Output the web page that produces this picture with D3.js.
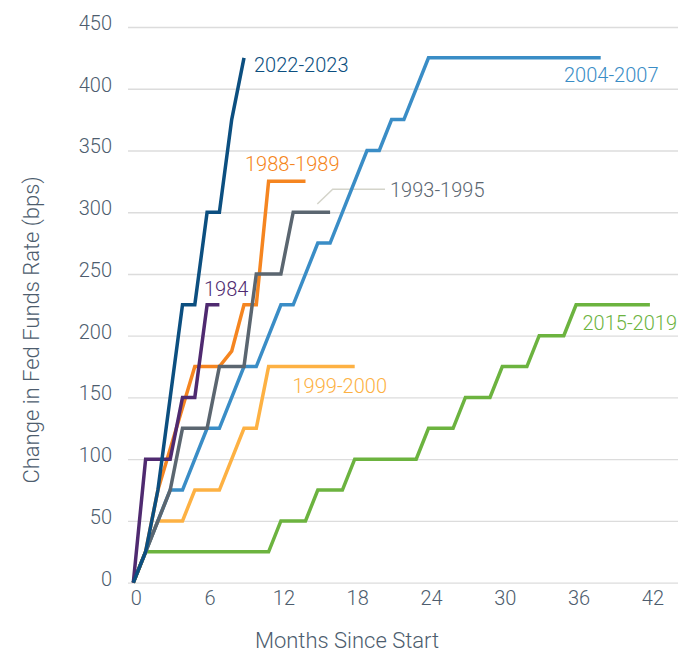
<!DOCTYPE html>
<html>
<head>
<meta charset="utf-8">
<script src="https://cdn.jsdelivr.net/npm/d3@7"></script>
<style>
  body { margin: 0; background: #fff; }
  text { font-family: Roboto, "Open Sans", sans-serif; font-weight: 300; }
  .tick line { stroke: #dcdcdc; stroke-width: 1.3; }
  .tick text { fill: #4d5d6e; font-size: 20px; }
</style>
</head>
<body>
<div id="vis"></div>
<script>
// ---- data ----
const seriesNames = ['2015-2019', '1999-2000', '2004-2007', '1988-1989', '1993-1995', '1984', '2022-2023'];

const months2015 = [0, 1, 11, 12, 14, 15, 17, 18, 23, 24, 26, 27, 29, 30, 32, 33, 35, 36, 42];
const bps2015    = [0, 25, 25, 50, 50, 75, 75, 100, 100, 125, 125, 150, 150, 175, 175, 200, 200, 225, 225];

const months1999 = [0, 1, 2, 4, 5, 7, 9, 10, 11, 18];
const bps1999    = [0, 25, 50, 50, 75, 75, 125, 125, 175, 175];

const months2004 = [0, 1, 3, 4, 6, 7, 9, 10, 12, 13, 15, 16, 19, 20, 21, 22, 24, 38];
const bps2004    = [0, 25, 75, 75, 125, 125, 175, 175, 225, 225, 275, 275, 350, 350, 375, 375, 425, 425];

const months1988 = [0, 1, 2, 5, 7, 8, 9, 10, 11, 14];
const bps1988    = [0, 25, 75, 175, 175, 187.5, 225, 225, 325, 325];

const months1993 = [0, 1, 3, 4, 6, 7, 9, 10, 12, 13, 16];
const bps1993    = [0, 25, 75, 125, 125, 175, 175, 250, 250, 300, 300];

const months1984 = [0, 1, 3, 4, 5, 6, 7];
const bps1984    = [0, 100, 100, 150, 150, 225, 225];

const months2022 = [0, 1, 2, 3, 4, 5, 6, 7, 8, 9];
const bps2022    = [0, 25, 75, 150, 225, 225, 300, 300, 375, 425];

const yTicks = [0, 50, 100, 150, 200, 250, 300, 350, 400, 450];
const xTicks = [0, 6, 12, 18, 24, 30, 36, 42];

const seriesMonths = [months2015, months1999, months2004, months1988, months1993, months1984, months2022];
const seriesBps = [bps2015, bps1999, bps2004, bps1988, bps1993, bps1984, bps2022];

// ---- styling ----
const colors = {
  '2015-2019': '#6cb33f',
  '1999-2000': '#fdb143',
  '2004-2007': '#3a8dc6',
  '1988-1989': '#f58520',
  '1993-1995': '#5b6670',
  '1984': '#4f2a70',
  '2022-2023': '#0c4f80'
};

const width = 692, height = 654;

const svg = d3.select('#vis')
  .append('svg')
  .attr('width', width)
  .attr('height', height);

const x = d3.scaleLinear().domain([0, 42]).range([133.3, 649.9]);
const y = d3.scaleLinear().domain([0, 450]).range([582.7, 27]);

// gridlines + y labels
const yAxis = svg.append('g')
  .attr('transform', 'translate(128,0)')
  .call(d3.axisLeft(y).tickValues(yTicks).tickSize(-550).tickPadding(16));
yAxis.select('.domain').remove();
yAxis.selectAll('.tick text').attr('y', -4);

// x labels
const xAxis = svg.append('g')
  .attr('transform', `translate(0,${y(0)})`)
  .call(d3.axisBottom(x).tickValues(xTicks).tickSize(0).tickPadding(8));
xAxis.select('.domain').remove();
xAxis.selectAll('.tick text').attr('dx', 2.5);

// axis titles
svg.append('text')
  .attr('x', 347)
  .attr('y', 648)
  .attr('text-anchor', 'middle')
  .style('font-size', '22px')
  .style('fill', '#4d5d6e')
  .text('Months Since Start');

svg.append('text')
  .attr('transform', 'rotate(-90)')
  .attr('x', -330)
  .attr('y', 39)
  .attr('text-anchor', 'middle')
  .style('font-size', '22px')
  .style('fill', '#4d5d6e')
  .text('Change in Fed Funds Rate (bps)');

// leader for 1993-1995
svg.append('polyline')
  .attr('points', '317.3,204 332.7,189.3 385,189.3')
  .attr('fill', 'none')
  .attr('stroke', '#d4d4ca')
  .attr('stroke-width', 1.5);

// lines
const line = d3.line()
  .x(d => x(d[0]))
  .y(d => y(d[1]));

seriesNames.forEach((name, i) => {
  const pts = seriesMonths[i].map((m, j) => [m, seriesBps[i][j]]);
  svg.append('path')
    .datum(pts)
    .attr('class', 'series')
    .attr('fill', 'none')
    .attr('stroke', colors[name])
    .attr('stroke-width', 3.5)
    .attr('d', line);
});

// series labels
const labelSpots = [
  {name: '2022-2023', px: 254, py: 71.7},
  {name: '2004-2007', px: 564, py: 82.3},
  {name: '1988-1989', px: 245, py: 171},
  {name: '1993-1995', px: 390, py: 196.7},
  {name: '1984', px: 204, py: 295.7},
  {name: '1999-2000', px: 292.5, py: 393.3},
  {name: '2015-2019', px: 582.5, py: 330}
];

svg.selectAll('.series-label')
  .data(labelSpots)
  .join('text')
  .attr('class', 'series-label')
  .attr('x', d => d.px)
  .attr('y', d => d.py)
  .style('font-size', '20px')
  .style('fill', d => d.name === '1993-1995' ? '#5b6670' : colors[d.name])
  .text(d => d.name);
</script>
</body>
</html>
